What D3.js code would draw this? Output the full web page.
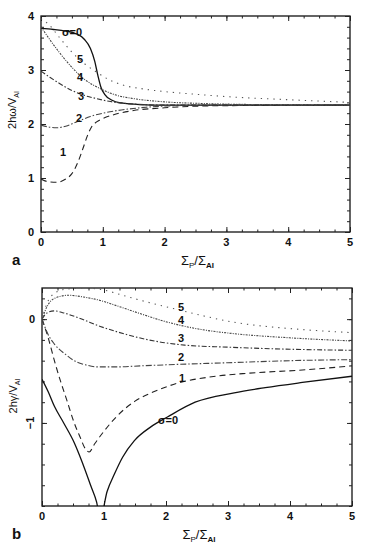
<!DOCTYPE html>
<html>
<head>
<meta charset="utf-8">
<script src="https://cdn.jsdelivr.net/npm/d3@7"></script>
<style>
  body { margin: 0; background: #fff; }
  text { font-family: "Liberation Sans", Arial, sans-serif; fill: #111; }
</style>
</head>
<body>
<script>
// panel a: 2hω/V_AI vs Σp/ΣAI, one curve per σ
const omega0 = [[0,3.77],[0.2,3.75],[0.4,3.72],[0.55,3.68],[0.7,3.57],[0.8,3.4],[0.87,3.16],[0.92,2.9],[0.97,2.68],[1.03,2.55],[1.15,2.44],[1.3,2.39],[1.6,2.36],[2,2.35],[3,2.35],[4,2.35],[5,2.35]];
const omega1 = [[0,0.98],[0.12,0.93],[0.25,0.92],[0.4,0.98],[0.5,1.08],[0.6,1.3],[0.68,1.55],[0.75,1.78],[0.82,1.95],[0.9,2.04],[1.0,2.1],[1.2,2.18],[1.5,2.25],[2,2.3],[2.5,2.33],[3,2.34],[5,2.35]];
const omega2 = [[0,1.98],[0.1,1.95],[0.25,1.93],[0.4,1.96],[0.6,2.05],[0.8,2.14],[1.0,2.2],[1.3,2.26],[1.7,2.31],[2.2,2.34],[3,2.35],[5,2.35]];
const omega3 = [[0,2.98],[0.15,2.86],[0.3,2.75],[0.5,2.62],[0.7,2.53],[0.9,2.47],[1.1,2.42],[1.5,2.37],[2,2.35],[5,2.35]];
const omega4 = [[0,3.8],[0.15,3.55],[0.3,3.32],[0.5,3.05],[0.7,2.83],[0.95,2.66],[1.2,2.54],[1.5,2.47],[2,2.41],[2.6,2.38],[3.5,2.36],[5,2.35]];
const omega5 = [[0,3.95],[0.12,3.85],[0.3,3.6],[0.5,3.33],[0.7,3.12],[0.9,2.96],[1.1,2.82],[1.3,2.73],[1.65,2.65],[2,2.6],[2.4,2.56],[3.1,2.5],[4,2.45],[5,2.4]];

// panel b: 2hγ/V_AI
const gamma0 = [[0,-0.58],[0.1,-0.7],[0.2,-0.84],[0.35,-1.0],[0.52,-1.19],[0.65,-1.38],[0.79,-1.61],[0.88,-1.76],[0.94,-1.92],[1.05,-1.66],[1.17,-1.49],[1.3,-1.33],[1.49,-1.17],[1.75,-1.04],[2.03,-0.94],[2.47,-0.8],[3.1,-0.71],[3.6,-0.66],[4.2,-0.61],[5,-0.55]];
const gamma1 = [[0,0],[0.1,-0.18],[0.2,-0.4],[0.3,-0.6],[0.4,-0.78],[0.52,-1.0],[0.61,-1.13],[0.7,-1.25],[0.76,-1.28],[0.85,-1.2],[1.0,-1.08],[1.2,-0.94],[1.5,-0.79],[1.8,-0.7],[2.17,-0.62],[2.8,-0.55],[3.35,-0.52],[4.2,-0.49],[5,-0.45]];
const gamma2 = [[0,0],[0.1,-0.15],[0.2,-0.24],[0.38,-0.34],[0.55,-0.41],[0.7,-0.44],[0.9,-0.46],[1.2,-0.46],[1.6,-0.45],[2,-0.44],[3,-0.42],[4,-0.4],[5,-0.39]];
const gamma3 = [[0,0],[0.08,0.06],[0.2,0.08],[0.35,0.06],[0.6,0.01],[0.94,-0.07],[1.2,-0.12],[1.5,-0.17],[1.9,-0.22],[2.3,-0.25],[3,-0.27],[4,-0.29],[5,-0.3]];
const gamma4 = [[0,0],[0.08,0.12],[0.2,0.2],[0.42,0.23],[0.7,0.21],[0.94,0.18],[1.2,0.13],[1.5,0.07],[2.03,-0.03],[2.57,-0.1],[3.1,-0.14],[4,-0.18],[5,-0.21]];
const gamma5 = [[0,0],[0.08,0.15],[0.2,0.25],[0.4,0.29],[0.7,0.3],[1.0,0.28],[1.3,0.23],[1.6,0.18],[2.2,0.09],[3.1,-0.03],[4.2,-0.1],[5,-0.13]];

const xTicks = [0, 1, 2, 3, 4, 5];
const yTicksA = [0, 1, 2, 3, 4];
const yTicksB = [0, -1];

// dash styles per σ (0..5)
const dashes = [null, "6,4", "6,2,1.5,2", "5,2,1.5,2", "2,1.2,1,1.2", "1.3,5"];
const strokes = ["#111", "#222", "#444", "#333", "#444", "#555"];

const W = 365, H = 545;
const svg = d3.select("body").append("svg").attr("width", W).attr("height", H);

function panel(cfg) {
    const x = d3.scaleLinear().domain([0, 5]).range([cfg.left, cfg.right]);
    const y = d3.scaleLinear().domain(cfg.yDomain).range([cfg.bottom, cfg.top]);
    const g = svg.append("g");

    const clipId = "clip" + cfg.name;
    g.append("clipPath").attr("id", clipId)
        .append("rect")
        .attr("x", cfg.left).attr("y", cfg.top)
        .attr("width", cfg.right - cfg.left).attr("height", cfg.bottom - cfg.top);

    // frame
    g.append("rect")
        .attr("x", cfg.left).attr("y", cfg.top)
        .attr("width", cfg.right - cfg.left).attr("height", cfg.bottom - cfg.top)
        .attr("fill", "none").attr("stroke", "#111").attr("stroke-width", 1.3);

    // inward ticks on all four sides
    const xMinor = d3.range(0, 5.001, 0.25);
    const yMinor = d3.range(cfg.yDomain[0], cfg.yDomain[1] + 0.001, 0.2).map(v => Math.round(v * 10) / 10);
    const axes = [
        [d3.axisBottom(x), `translate(0,${cfg.bottom})`, -1],
        [d3.axisTop(x), `translate(0,${cfg.top})`, 1]
    ];
    axes.forEach(([ax, tr]) => {
        g.append("g").attr("transform", tr)
            .call(ax.tickValues(xMinor).tickSize(-2.5).tickFormat(""))
            .call(s => s.select(".domain").remove());
        g.append("g").attr("transform", tr)
            .call(ax.tickValues(xTicks).tickSize(-5).tickFormat(""))
            .call(s => s.select(".domain").remove());
    });
    [[d3.axisLeft(y), `translate(${cfg.left},0)`], [d3.axisRight(y), `translate(${cfg.right},0)`]].forEach(([ax, tr]) => {
        g.append("g").attr("transform", tr)
            .call(ax.tickValues(yMinor).tickSize(-3).tickFormat(""))
            .call(s => s.select(".domain").remove());
        g.append("g").attr("transform", tr)
            .call(ax.tickValues(cfg.yTicks).tickSize(-5).tickFormat(""))
            .call(s => s.select(".domain").remove());
    });
    g.selectAll(".tick line").attr("stroke", "#222").attr("stroke-width", 1);

    // tick labels
    g.selectAll(".xl").data(xTicks).join("text")
        .attr("x", d => x(d)).attr("y", cfg.bottom + 14)
        .attr("text-anchor", "middle").attr("font-size", 11).attr("font-weight", "bold")
        .text(d => d);
    g.selectAll(".yl").data(cfg.yTicks).join("text")
        .attr("transform", d => d < 0
            ? `translate(${cfg.left - 8},${y(d)}) rotate(-90)`
            : `translate(${cfg.left - 7},${y(d) + 4})`)
        .attr("text-anchor", d => d < 0 ? "middle" : "end")
        .attr("font-size", 11).attr("font-weight", "bold")
        .text(d => d < 0 ? "\u2212" + Math.abs(d) : d);

    // curves
    const line = d3.line().x(d => x(d[0])).y(d => y(d[1])).curve(d3.curveMonotoneX);
    g.append("g").attr("clip-path", `url(#${clipId})`)
        .selectAll("path").data(cfg.series).join("path")
        .attr("d", d => line(d))
        .attr("fill", "none")
        .attr("stroke", (d, i) => strokes[i])
        .attr("stroke-width", (d, i) => i === 0 ? 1.3 : 1.1)
        .attr("stroke-dasharray", (d, i) => dashes[i]);

    // curve labels
    g.selectAll(".cl").data(cfg.labels).join("text")
        .attr("x", d => d.x).attr("y", d => d.y)
        .attr("font-size", 11).attr("font-weight", "bold")
        .text(d => d.t);

    // y title
    const yt = g.append("text")
        .attr("transform", `translate(${cfg.left - 25},${cfg.yTitleY}) rotate(-90)`)
        .attr("text-anchor", "middle").attr("font-size", 11);
    yt.append("tspan").text(cfg.yTitle);
    yt.append("tspan").attr("font-size", 7).attr("dy", 3).text("AI");

    // x title Σp/ΣAI
    const xt = g.append("text")
        .attr("x", (cfg.left + cfg.right) / 2 + 2).attr("y", cfg.bottom + 33)
        .attr("text-anchor", "middle").attr("font-size", 13);
    xt.append("tspan").text("\u03A3");
    xt.append("tspan").attr("font-size", 8).attr("dy", 3).text("P");
    xt.append("tspan").attr("dy", -3).text("/\u03A3");
    xt.append("tspan").attr("font-size", 8).attr("dy", 3).attr("font-weight", "bold").text("AI");

    g.append("text").attr("x", 12).attr("y", cfg.bottom + 33)
        .attr("font-size", 15).attr("font-weight", "bold").text(cfg.name);
}

panel({
    name: "a", left: 41, right: 350, top: 16, bottom: 232,
    yDomain: [0, 4], yTicks: yTicksA,
    series: [omega0, omega1, omega2, omega3, omega4, omega5],
    yTitle: "2h\u03C9/V", yTitleY: 110,
    labels: [
        { t: "\u03C3=0", x: 62, y: 36 }, { t: "5", x: 77, y: 63 }, { t: "4", x: 77, y: 81 },
        { t: "3", x: 78, y: 100 }, { t: "2", x: 76, y: 122 }, { t: "1", x: 60, y: 156 }
    ]
});

panel({
    name: "b", left: 42, right: 352, top: 288, bottom: 506,
    yDomain: [-1.8, 0.3], yTicks: yTicksB,
    series: [gamma0, gamma1, gamma2, gamma3, gamma4, gamma5],
    yTitle: "2h\u03B3/V", yTitleY: 396,
    labels: [
        { t: "5", x: 178, y: 311 }, { t: "4", x: 178, y: 324 }, { t: "3", x: 178, y: 342 },
        { t: "2", x: 178, y: 361 }, { t: "1", x: 179, y: 382 }, { t: "\u03C3=0", x: 158, y: 424 }
    ]
});
</script>
</body>
</html>
